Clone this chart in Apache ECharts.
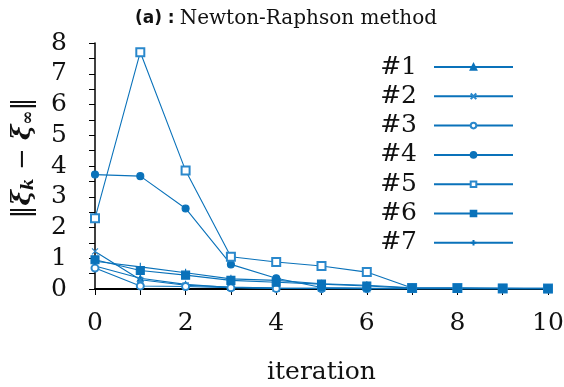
<!DOCTYPE html>
<html><head><meta charset="utf-8">
<script src="https://cdn.jsdelivr.net/npm/echarts@6/dist/echarts.min.js"></script>
<style>html,body{margin:0;padding:0;background:#fff}#c{width:564px;height:387px}</style>
</head><body><div id="c"></div>
<script>
const iterations = [0,1,2,3,4,5,6,7,8,9,10];
const seriesNames = ['#1','#2','#3','#4','#5','#6','#7'];
const s1 = [0.75, 0.35, 0.15, 0.05, 0.03, 0.02, 0.01, 0.01, 0.01, 0.01, 0.01];
const s2 = [1.22, 0.30, 0.12, 0.06, 0.03, 0.02, 0.01, 0.01, 0.01, 0.01, 0.01];
const s3 = [0.68, 0.10, 0.08, 0.04, 0.02, 0.01, 0.01, 0.01, 0.01, 0.01, 0.01];
const s4 = [3.72, 3.67, 2.62, 0.80, 0.35, 0.05, 0.03, 0.02, 0.02, 0.01, 0.01];
const s5 = [2.30, 7.70, 3.85, 1.05, 0.88, 0.75, 0.55, 0.03, 0.03, 0.02, 0.02];
const s6 = [0.95, 0.60, 0.45, 0.28, 0.22, 0.16, 0.10, 0.03, 0.02, 0.02, 0.01];
const s7 = [0.90, 0.72, 0.53, 0.33, 0.28, 0.17, 0.12, 0.04, 0.03, 0.02, 0.02];
const allValues = [s1,s2,s3,s4,s5,s6,s7];

const blue = '#0a72ba';
const lightBlue = '#2a88cc';
const serif = 'DejaVu Serif';
const symbols = [
  {symbol:'triangle', size:6, color:blue},
  {symbol:'path://M0,0L10,10M10,0L0,10', size:6, color:lightBlue},
  {symbol:'emptyCircle', size:7, color:lightBlue},
  {symbol:'circle', size:7, color:blue},
  {symbol:'emptyRect', size:8, color:lightBlue},
  {symbol:'rect', size:8, color:blue},
  {symbol:'path://M5,0L5,10M0,5L10,5', size:8, color:blue}
];

const series = allValues.map((vals, i) => ({
  name: seriesNames[i],
  type: 'line',
  data: iterations.map((x, j) => [x, vals[j]]),
  symbol: symbols[i].symbol,
  symbolSize: symbols[i].size,
  showAllSymbol: true,
  lineStyle: {color: blue, width: 1.1},
  itemStyle: {color: symbols[i].color, borderColor: symbols[i].color, borderWidth: 1.1},
  emphasis: {disabled: true},
  z: 2
}));

const chart = echarts.init(document.getElementById('c'), null, {renderer:'canvas'});
chart.setOption({
  animation: false,
  backgroundColor: '#fff',
  title: {
    text: '{a|(a) :} {b|Newton-Raphson method}',
    left: 281, top: 4, textAlign: 'center',
    textStyle: {
      fontWeight: 'normal',
      rich: {
        a: {fontFamily:'DejaVu Sans', fontWeight:'bold', fontSize:17, color:'#111'},
        b: {fontFamily:serif, fontWeight:'normal', fontSize:20, color:'#111'}
      }
    }
  },
  grid: {left: 95, right: 16, top: 43, bottom: 98, containLabel: false, outerBoundsMode: 'none'},
  legend: {
    orient: 'vertical', right: 45, top: 49,
    align: 'right',
    itemWidth: 79, itemHeight: 7, itemGap: 3.3,
    textStyle: {fontFamily: serif, fontSize: 25, color:'#111', lineHeight: 26, padding:[0,12,0,0]},
    data: seriesNames
  },
  xAxis: {
    type: 'value', min: 0, max: 10, interval: 2,
    name: 'iteration', nameLocation: 'middle', nameGap: 71,
    nameTextStyle: {fontFamily: serif, fontSize: 25, color:'#111'},
    axisLine: {show:true, onZero:false, lineStyle:{color:'#000', width:2}},
    axisTick: {show:true, inside:false, length:6, lineStyle:{color:'#000', width:1}},
    minorTick: {show:true, splitNumber:2, length:6, lineStyle:{color:'#000', width:1}},
    axisLabel: {fontFamily: serif, fontSize: 25, color:'#111', margin: 22},
    splitLine: {show:false}, minorSplitLine:{show:false}
  },
  yAxis: {
    type: 'value', min: 0, max: 8, interval: 1,
    name: '{p|}{n|‖}{b|ξ}{s|k}{n| − }{b|ξ}{s|∞}{n|‖}',
    nameLocation: 'middle', nameGap: 58, nameRotate: 90,
    nameTextStyle: {
      rich: {
        p: {width: 16},
        n: {fontFamily: serif, fontSize: 26, color:'#111'},
        b: {fontFamily: serif, fontSize: 26, fontWeight:'bold', fontStyle:'italic', color:'#111'},
        s: {fontFamily: serif, fontSize: 17, fontWeight:'bold', fontStyle:'italic', color:'#111', verticalAlign:'bottom', padding:[11,0,0,0]}
      }
    },
    axisLine: {show:true, onZero:false, lineStyle:{color:'#000', width:1.5}},
    axisTick: {show:true, inside:false, length:6, lineStyle:{color:'#000', width:1}},
    minorTick: {show:true, splitNumber:2, length:6, lineStyle:{color:'#000', width:1}},
    axisLabel: {fontFamily: serif, fontSize: 25, color:'#111', margin: 28},
    splitLine: {show:false}, minorSplitLine:{show:false}
  },
  series: series
});
</script>
</body></html>
